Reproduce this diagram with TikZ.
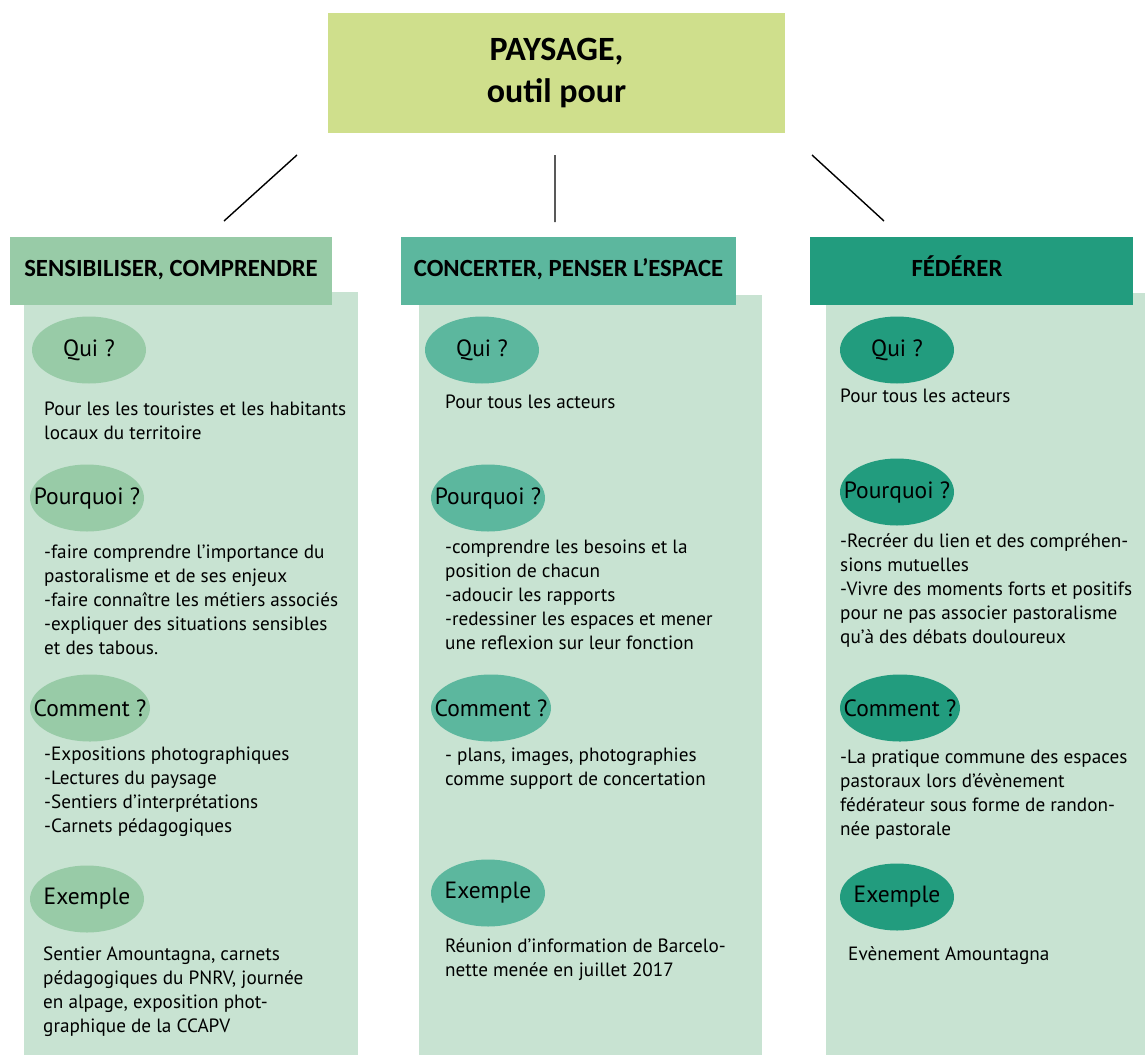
\documentclass[tikz,border=0pt]{standalone}
\usepackage{fontspec}
\setmainfont{PT Sans}
\newfontfamily\titrefont{Carlito}
\usetikzlibrary{shapes.geometric}

\definecolor{jaune}{HTML}{CFDF8C}
\definecolor{vertA}{HTML}{98CBA7}
\definecolor{vertB}{HTML}{5CB79E}
\definecolor{vertC}{HTML}{229C7E}
\definecolor{fond}{HTML}{C8E3D2}

\newcommand{\etiq}[1]{\makebox[0pt]{#1}}

\tikzset{
  titre/.style={font=\titrefont\bfseries\fontsize{24.7}{28}\selectfont, minimum width=322pt, minimum height=68pt, inner sep=0pt, text height=16pt, text depth=6pt},
  bulle/.style={ellipse, minimum width=114pt, minimum height=67pt, inner sep=0pt, font=\fontsize{23.5}{28}\selectfont},
  corps/.style={anchor=north west, inner sep=0pt, align=left, font=\fontsize{19.2}{24.2}\selectfont},
  lien/.style={line width=1.4pt}
}

\begin{document}
\begin{tikzpicture}[x=1pt,y=-1pt]
\useasboundingbox (0,0) rectangle (1145,1055);

% fonds des colonnes
\fill[fond] (24,292) rectangle (358,1055);
\fill[fond] (419,295) rectangle (762,1055);
\fill[fond] (826,293) rectangle (1145,1055);

\node[fill=jaune, minimum width=457pt, minimum height=120pt, align=center,
  font=\titrefont\bfseries\fontsize{34}{42}\selectfont] (top) at (556.5,73) {PAYSAGE,\\outil pour};

\node[titre, fill=vertA] (sens) at (171,271) {SENSIBILISER, COMPRENDRE};
\node[titre, fill=vertB, minimum width=335pt] (conc) at (568.5,271) {CONCERTER, PENSER L’ESPACE};
\node[titre, fill=vertC, minimum width=323pt] (fede) at (971.5,271) {FÉDÉRER\hspace*{29pt}};

\coordinate (g1) at (297,155); \coordinate (g2) at (224,221);
\coordinate (m1) at (555,155); \coordinate (m2) at (555,222);
\coordinate (d1) at (812,155); \coordinate (d2) at (884,221);
\draw[lien] (g1) -- (g2)
  (m1) -- (m2)
  (d1) -- (d2);

% sensibiliser
\node[bulle, fill=vertA] (qui1) at (89,350) {\etiq{Qui ?}};
\node[corps] (tqui1) at (44,398) {\strut Pour les les touristes et les habitants\\locaux du territoire};
\node[bulle, fill=vertA] (pq1) at (87,498) {\etiq{Pourquoi ?}};
\node[corps] (tpq1) at (44,541) {\strut -faire comprendre l’importance du\\pastoralisme et de ses enjeux\\-faire connaître les métiers associés\\-expliquer des situations sensibles\\et des tabous.};
\node[bulle, fill=vertA, minimum width=120pt] (cm1) at (90,708) {\etiq{Comment ?}};
\node[corps] (tcm1) at (44,743) {\strut -Expositions photographiques\\-Lectures du paysage\\-Sentiers d’interprétations\\-Carnets pédagogiques};
\node[bulle, fill=vertA] (ex1) at (87,899) {\etiq{Exemple}};
\node[corps] (tex1) at (43,943) {\strut Sentier Amountagna, carnets\\pédagogiques du PNRV, journée\\en alpage, exposition phot-\\graphique de la CCAPV};

% concerter
\node[bulle, fill=vertB] (qui2) at (482,350) {\etiq{Qui ?}};
\node[corps] (tqui2) at (445,391) {\strut Pour tous les acteurs};
\node[bulle, fill=vertB] (pq2) at (488,498) {\etiq{Pourquoi ?}};
\node[corps] (tpq2) at (445,536) {\strut -comprendre les besoins et la\\position de chacun\\-adoucir les rapports\\-redessiner les espaces et mener\\une reflexion sur leur fonction};
\node[bulle, fill=vertB, minimum width=120pt] (cm2) at (491,708) {\etiq{Comment ?}};
\node[corps] (tcm2) at (445,744) {\strut - plans, images, photographies\\comme support de concertation};
\node[bulle, fill=vertB] (ex2) at (488,893) {\etiq{Exemple}};
\node[corps] (tex2) at (445,935) {\strut Réunion d’information de Barcelo-\\nette menée en juillet 2017};

% federer
\node[bulle, fill=vertC] (qui3) at (897,350) {\etiq{Qui ?}};
\node[corps] (tqui3) at (840,385) {\strut Pour tous les acteurs};
\node[bulle, fill=vertC] (pq3) at (897,492) {\etiq{Pourquoi ?}};
\node[corps] (tpq3) at (840,530) {\strut -Recréer du lien et des compréhen-\\sions mutuelles\\-Vivre des moments forts et positifs\\pour ne pas associer pastoralisme\\qu’à des débats douloureux};
\node[bulle, fill=vertC, minimum width=120pt] (cm3) at (900,708) {\etiq{Comment ?}};
\node[corps] (tcm3) at (840,746) {\strut -La pratique commune des espaces\\pastoraux lors d’évènement\\fédérateur sous forme de randon-\\née pastorale};
\node[bulle, fill=vertC] (ex3) at (897,897) {\etiq{Exemple}};
\node[corps] (tex3) at (848,943) {\strut Evènement Amountagna};
\end{tikzpicture}
\end{document}
